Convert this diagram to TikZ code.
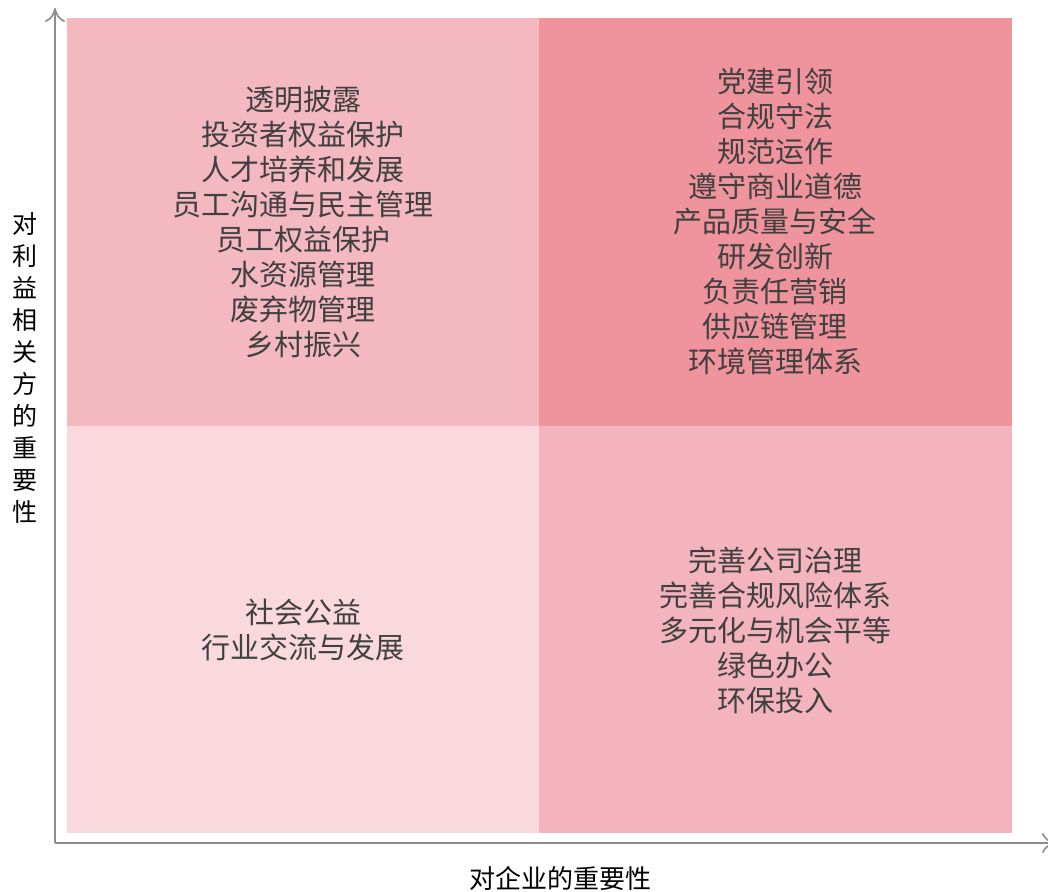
\documentclass[tikz,border=0pt]{standalone}
\usepackage{fontspec}
\setmainfont{Noto Sans CJK SC}
\usetikzlibrary{arrows.meta}
\definecolor{qtl}{HTML}{F4B8C0}
\definecolor{qtr}{HTML}{EF939C}
\definecolor{qbl}{HTML}{F9D9DE}
\definecolor{qbr}{HTML}{F4B4BD}
\definecolor{txtgray}{HTML}{404040}
\definecolor{axisgray}{HTML}{8C8C8C}
\tikzset{
  quadtext/.style={align=center,text=txtgray,font=\fontsize{29}{35}\selectfont},
  axislabel/.style={text=black,font=\fontsize{26}{32}\selectfont},
  axisline/.style={axisgray,line width=1.6pt,-{To[length=14pt,width=20pt]}}
}
\begin{document}
\begin{tikzpicture}[x=1pt,y=-1pt]
  \useasboundingbox (0,0) rectangle (1048,891);
  % quadrants
  \fill[qtl] (67,18) rectangle (539,426);
  \fill[qtr] (539,18) rectangle (1012,426);
  \fill[qbl] (67,426) rectangle (539,833);
  \fill[qbr] (539,426) rectangle (1012,833);
  % axes
  \coordinate (origin) at (55,843);
  \coordinate (ytop) at (55,8);
  \coordinate (xend) at (1056,843);
  \draw[axisline] (origin) -- (ytop);
  \draw[axisline] (origin) -- (xend);
  \node[axislabel] (xlab) at (560,878) {对企业的重要性};
  \node[axislabel,align=center,font=\fontsize{25}{32}\selectfont] (ylab) at (25,368) {对\\利\\益\\相\\关\\方\\的\\重\\要\\性};
  % quadrant texts
  \node[quadtext] (tl) at (303,222) {透明披露\\投资者权益保护\\人才培养和发展\\员工沟通与民主管理\\员工权益保护\\水资源管理\\废弃物管理\\乡村振兴};
  \node[quadtext] (tr) at (775,222) {党建引领\\合规守法\\规范运作\\遵守商业道德\\产品质量与安全\\研发创新\\负责任营销\\供应链管理\\环境管理体系};
  \node[quadtext] (bl) at (303,630) {社会公益\\行业交流与发展};
  \node[quadtext] (br) at (775,630) {完善公司治理\\完善合规风险体系\\多元化与机会平等\\绿色办公\\环保投入};
\end{tikzpicture}
\end{document}
